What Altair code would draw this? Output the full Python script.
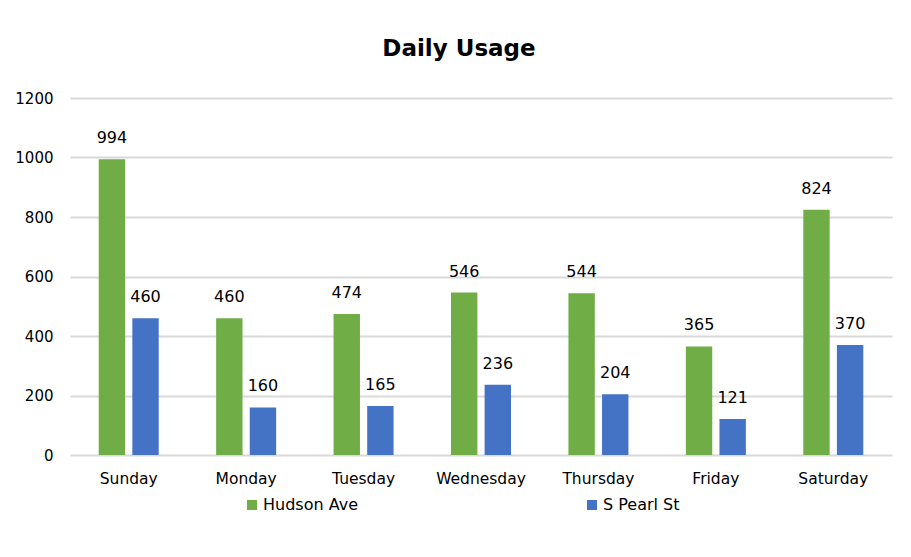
import altair as alt
import pandas as pd

days = ["Sunday", "Monday", "Tuesday", "Wednesday", "Thursday", "Friday", "Saturday"]
series_names = ["Hudson Ave", "S Pearl St"]
hudson = [994, 460, 474, 546, 544, 365, 824]
pearl = [460, 160, 165, 236, 204, 121, 370]
colors = ["#70AD47", "#4472C4"]
y_ticks = [0, 200, 400, 600, 800, 1000, 1200]

rows = []
for d, h, p in zip(days, hudson, pearl):
    rows.append({"day": d, "series": series_names[0], "value": h})
    rows.append({"day": d, "series": series_names[1], "value": p})
df = pd.DataFrame(rows)

FONT = "DejaVu Sans"

base = alt.Chart(df).encode(
    x=alt.X(
        "day:N",
        sort=days,
        scale=alt.Scale(paddingInner=0.489, paddingOuter=0.2445),
        axis=alt.Axis(
            title=None, labelAngle=0, domain=False, ticks=False,
            labelPadding=16, labelFontSize=15.5, labelColor="#000000",
            labelFont=FONT, grid=False,
        ),
    ),
    xOffset=alt.XOffset(
        "series:N", sort=series_names,
        scale=alt.Scale(paddingInner=0.215, paddingOuter=0),
    ),
    y=alt.Y(
        "value:Q",
        scale=alt.Scale(domain=[0, 1200], nice=False),
        axis=alt.Axis(
            values=y_ticks, format="d", title=None, domain=False, ticks=False,
            gridColor="#D9D9D9", gridWidth=2, labelPadding=17,
            labelFontSize=15, labelColor="#000000", labelFont=FONT,
        ),
    ),
)

bars = base.mark_bar().encode(
    color=alt.Color(
        "series:N",
        scale=alt.Scale(domain=series_names, range=colors),
        legend=alt.Legend(
            title=None, orient="none", legendX=174, legendY=399,
            direction="horizontal", columns=2, columnPadding=226,
            symbolType="square", symbolSize=100, symbolStrokeWidth=0,
            labelFontSize=16, labelOffset=3, labelColor="#000000",
            labelFont=FONT, padding=0,
        ),
    )
)

labels = base.mark_text(
    dy=-16, baseline="alphabetic", fontSize=16, font=FONT, color="#000000"
).encode(text="value:Q")

chart = (
    alt.layer(bars, labels)
    .properties(
        width=822,
        height=357,
        padding={"left": 62, "top": 90, "right": 11, "bottom": 80},
        autosize=alt.AutoSizeParams(type="none"),
        title=alt.TitleParams(
            "Daily Usage", fontSize=23, font=FONT, fontWeight="bold",
            color="#000000", anchor="middle", dx=-22, offset=12,
            baseline="alphabetic",
        ),
        background="white",
    )
    .configure_view(strokeWidth=0)
)

chart.save("out.html", embed_options={"renderer": "svg", "actions": False})
